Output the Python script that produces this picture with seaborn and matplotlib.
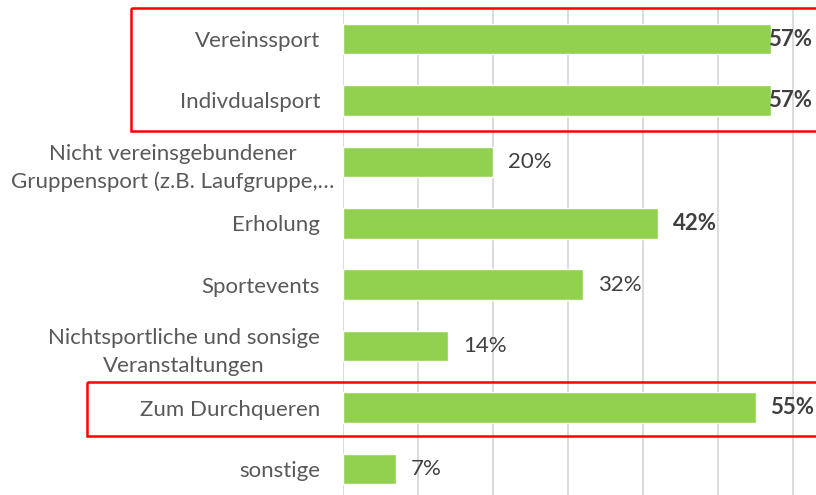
import matplotlib
matplotlib.use("Agg")
import matplotlib.pyplot as plt
import matplotlib.transforms as mtransforms
from matplotlib.patches import Rectangle
import seaborn as sns

# data
categories = [
    "Vereinssport",
    "Indivdualsport",
    "Nicht vereinsgebundener\nGruppensport (z.B. Laufgruppe,…",
    "Erholung",
    "Sportevents",
    "Nichtsportliche und sonsige\nVeranstaltungen",
    "Zum Durchqueren",
    "sonstige",
]
values = [57, 57, 20, 42, 32, 14, 55, 7]
bold_labels = [True, True, False, True, False, False, True, False]
# groups of categories framed in red (first index, last index)
highlight_groups = [(0, 1), (6, 6)]

sns.set_style("white")
plt.rcParams["font.family"] = ["Lato", "DejaVu Sans"]

W, H = 816, 495
fig = plt.figure(figsize=(W / 100, H / 100), dpi=100)

# plot area in pixels: left edge at x=343, bars spaced ~61.4 px, cropped at right/bottom
left_px, top_px, bottom_px = 343, 8.3, 499.7
ax = fig.add_axes([left_px / W, 1 - bottom_px / H, (W - left_px) / W, (bottom_px - top_px) / H])

sns.barplot(x=values, y=categories, color="#92D050", saturation=1, width=0.5,
            orient="h", ax=ax)

xmax = (W - left_px) / 7.5
ax.set_xlim(0, xmax)
ax.set_ylim(len(categories) - 0.5, -0.5)
ax.set_xticks(range(0, 70, 10))
ax.set_xticklabels([])
ax.xaxis.grid(True, color="#d9d9d9", linewidth=1.3)
ax.set_axisbelow(True)
for s in ax.spines.values():
    s.set_visible(False)
ax.tick_params(axis="both", length=0)
ax.tick_params(axis="y", pad=16.5, labelsize=16, labelcolor="#595959")
for t in ax.get_yticklabels():
    t.set_linespacing(1.5)
    t.set_multialignment("center")
    if "Gruppensport" in t.get_text():
        # the truncated line overhangs the label box a little, as in the reference
        t.set_transform(t.get_transform() + mtransforms.ScaledTranslation(14 / 100, 0, fig.dpi_scale_trans))
ax.set_xlabel("")
ax.set_ylabel("")

# value labels
edge = mtransforms.blended_transform_factory(ax.transAxes, ax.transData)
for i, (v, b) in enumerate(zip(values, bold_labels)):
    weight = "bold" if b else "normal"
    if v + 2 + 6.0 > xmax:
        ax.text(0.9915, i, f"{v}%", transform=edge, ha="right", va="center",
                fontsize=16, fontweight=weight, color="#404040")
    else:
        ax.text(v + 2, i, f"{v}%", ha="left", va="center",
                fontsize=16, fontweight=weight, color="#404040")

# red frames around highlighted rows
fig_x_data_y = mtransforms.blended_transform_factory(fig.transFigure, ax.transData)
frame_left = {0: 131 / W, 6: 87 / W}
frame_pad = {0: (0.5, 0.5), 6: (0.42, 0.47)}
for a, b in highlight_groups:
    pt, pb = frame_pad[a]
    x0 = frame_left[a]
    rect = Rectangle((x0, a - pt), 1.2 - x0, (b + pb) - (a - pt),
                     transform=fig_x_data_y, fill=False, edgecolor="#FF0000",
                     linewidth=1.8, clip_on=False)
    fig.add_artist(rect)

fig.savefig("out.png", dpi=100)
